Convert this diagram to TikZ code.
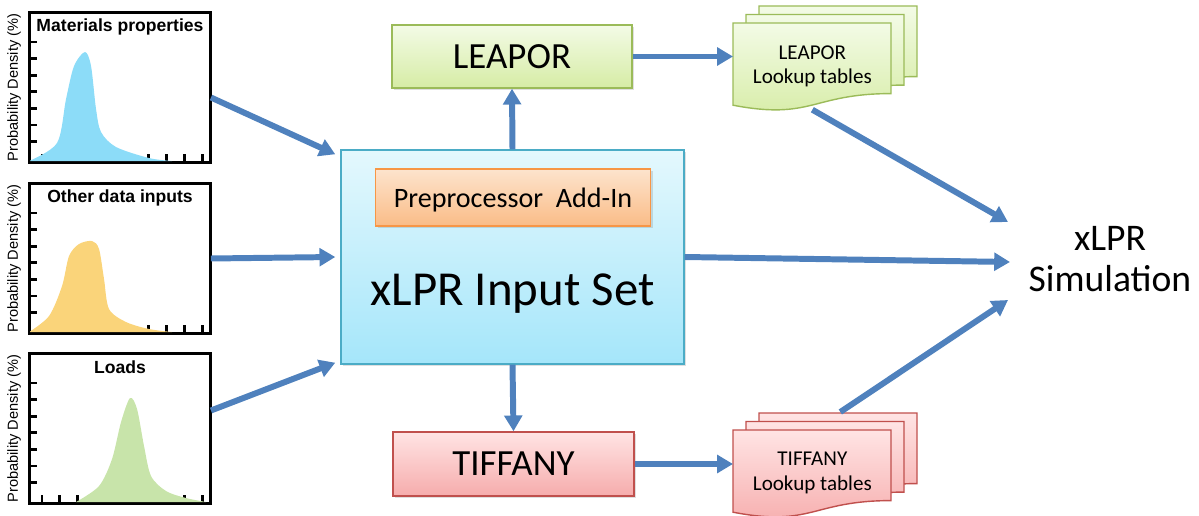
\documentclass[tikz,border=0pt]{standalone}
\usepackage{fontspec}
\setmainfont{Carlito}
\newfontfamily\plotfont{Liberation Sans}
\usetikzlibrary{positioning,arrows.meta,backgrounds,calc,shadows}
\definecolor{flowblue}{RGB}{79,129,189}
\definecolor{mainhi}{RGB}{228,248,253}
\definecolor{mainlo}{RGB}{165,230,250}
\definecolor{mainedge}{RGB}{75,172,198}
\definecolor{prephi}{RGB}{253,228,205}
\definecolor{preplo}{RGB}{250,188,135}
\definecolor{prepedge}{RGB}{247,150,70}
\definecolor{leaphi}{RGB}{243,251,230}
\definecolor{leaplo}{RGB}{214,236,165}
\definecolor{leapedge}{RGB}{155,187,89}
\definecolor{tiffhi}{RGB}{255,228,228}
\definecolor{tifflo}{RGB}{246,172,172}
\definecolor{tiffedge}{RGB}{192,80,77}
\definecolor{matblue}{RGB}{140,220,248}
\definecolor{otheryellow}{RGB}{250,212,122}
\definecolor{loadgreen}{RGB}{200,228,170}
\tikzset{%
boxshadow/.style={drop shadow={opacity=0.25,shadow xshift=1.2pt,shadow yshift=-1.2pt}},
progbox/.style={draw,rectangle,line width=0.8pt,inner sep=0pt,boxshadow},
plotframe/.style={draw,line width=1.1pt,minimum width=36mm,minimum height=29.8mm,inner sep=0pt},
paneltitle/.style={font=\plotfont\bfseries\fontsize{10}{12}\selectfont,inner sep=0pt},
axislabel/.style={font=\plotfont\fontsize{8.3}{10}\selectfont,rotate=90,inner sep=0pt},
tickmark/.style={line width=1.6pt},
flow/.style={draw=flowblue,line width=3.4pt,-{Triangle[length=9pt,width=10pt]}},
lutsheet/.style={line width=0.8pt},
lutlabel/.style={align=center,font=\fontsize{12}{14.2}\selectfont,inner sep=0pt,
  minimum width=31.6mm,minimum height=17.2mm,anchor=north west},
simlabel/.style={align=center,font=\fontsize{21.4}{23}\selectfont,inner sep=0pt}
}
\newcommand{\pdfpanel}[5]{%
  \node[plotframe] (#1) at (120,#2) {};
  \node[paneltitle] (#1title) at ($(#1.north)+(0,14.5)$) {#3};
  \node[axislabel] (#1ylabel) at ($(#1.west)+(-15,0)$) {Probability Density (\%)};
  \begin{scope}[shift={(#1.north west)}]
    \foreach \ty in {30,46.6,...,130} \draw[tickmark] (0,\ty) -- ++(8,0);
    \foreach \tx in {13,30.8,...,174} \draw[tickmark] (\tx,149) -- ++(0,-7);
    \fill[#4] plot[smooth] coordinates {#5} -- cycle;
  \end{scope}
  \draw[line width=1.1pt] (#1.south west) rectangle (#1.north east);
}
\newcommand{\lutstack}[4]{%
  \begin{scope}[on background layer]
    \foreach \dx/\dy in {26/-17,13/-8.5,0/0}
      \draw[lutsheet,top color=#2,bottom color=#3,draw=#4]
        ($(#1.north west)+(\dx,\dy)$) -- ++(158,0) -- ++(0,70.6)
        .. controls +(-79,0) and +(79,15.2) .. ++(-158,11.6) -- cycle;
  \end{scope}
}

\begin{document}
\begin{tikzpicture}[x=0.2mm,y=-0.2mm]
  \useasboundingbox (0,0) rectangle (1199,516);

  % input distributions
  \pdfpanel{matprop}{87.5}{Materials properties}{matblue}%
    {(0,149) (28,131) (37,87) (45,54) (56,40) (62,54) (67,97) (72,120) (87,135) (120,146) (143,149)}
  \pdfpanel{otherdata}{258.5}{Other data inputs}{otheryellow}%
    {(0,149) (20,133) (33,103) (40,73) (50,61) (63,58) (70,66) (75,96) (80,126) (97,139) (120,146) (143,149)}
  \pdfpanel{loads}{428.5}{Loads}{loadgreen}%
    {(47,149) (70,133) (83,106) (92,69) (101,45) (108,56) (115,93) (122,123) (137,138) (157,145) (177,149)}

  % codes
  \node[progbox,top color=mainhi,bottom color=mainlo,draw=mainedge,
    minimum width=68.6mm,minimum height=42.8mm] (main) at (512.5,257) {};
  \node[progbox,top color=prephi,bottom color=preplo,draw=prepedge,text depth=0pt,
    minimum width=55mm,minimum height=11.4mm,font=\fontsize{16}{19}\selectfont]
    (prep) at (513,197.5) {Preprocessor\ \ Add-In};
  \node[font=\fontsize{27.8}{33}\selectfont,anchor=base] (maintext) at (512.5,305) {xLPR Input Set};
  \node[progbox,top color=leaphi,bottom color=leaplo,draw=leapedge,
    minimum width=48mm,minimum height=12.6mm,font=\fontsize{21}{25}\selectfont]
    (leapor) at (512,56.5) {LEAPOR};
  \node[progbox,top color=tiffhi,bottom color=tifflo,draw=tiffedge,
    minimum width=48.2mm,minimum height=12.8mm,font=\fontsize{21}{25}\selectfont]
    (tiffany) at (513.5,464) {TIFFANY};

  % lookup tables
  \node[lutlabel] (leaplut) at (733,23) {LEAPOR\\Lookup tables};
  \node[lutlabel] (tifflut) at (733,430) {TIFFANY\\Lookup tables};
  \lutstack{leaplut}{leaphi}{leaplo}{leapedge}
  \lutstack{tifflut}{tiffhi}{tifflo}{tiffedge}

  \node[simlabel] (sim) at (1110,259) {xLPR\\Simulation};
  \coordinate (simtop) at (1008,222);
  \coordinate (simmid) at (1010,262);
  \coordinate (simbot) at (1008,300);

  \draw[flow] ($(matprop.east)+(0,10)$) -- ($(main.north west)+(-5,5)$);
  \draw[flow] (otherdata.east) -- ($(main.west)+(-5,0)$);
  \draw[flow] ($(loads.east)+(0,-18)$) -- ($(main.south west)+(-5,-2)$);
  \draw[flow] (main.north) -- (leapor.south);
  \draw[flow] (main.south) -- (tiffany.north);
  \draw[flow] (leapor.east) -- (leapor.east -| leaplut.west);
  \draw[flow] (tiffany.east) -- (tiffany.east -| tifflut.west);
  \draw[flow] (main.east) -- (simmid);
  \draw[flow] (leaplut.south) -- (simtop);
  \draw[flow] ($(tifflut.north)+(28,-18)$) -- (simbot);
\end{tikzpicture}
\end{document}
